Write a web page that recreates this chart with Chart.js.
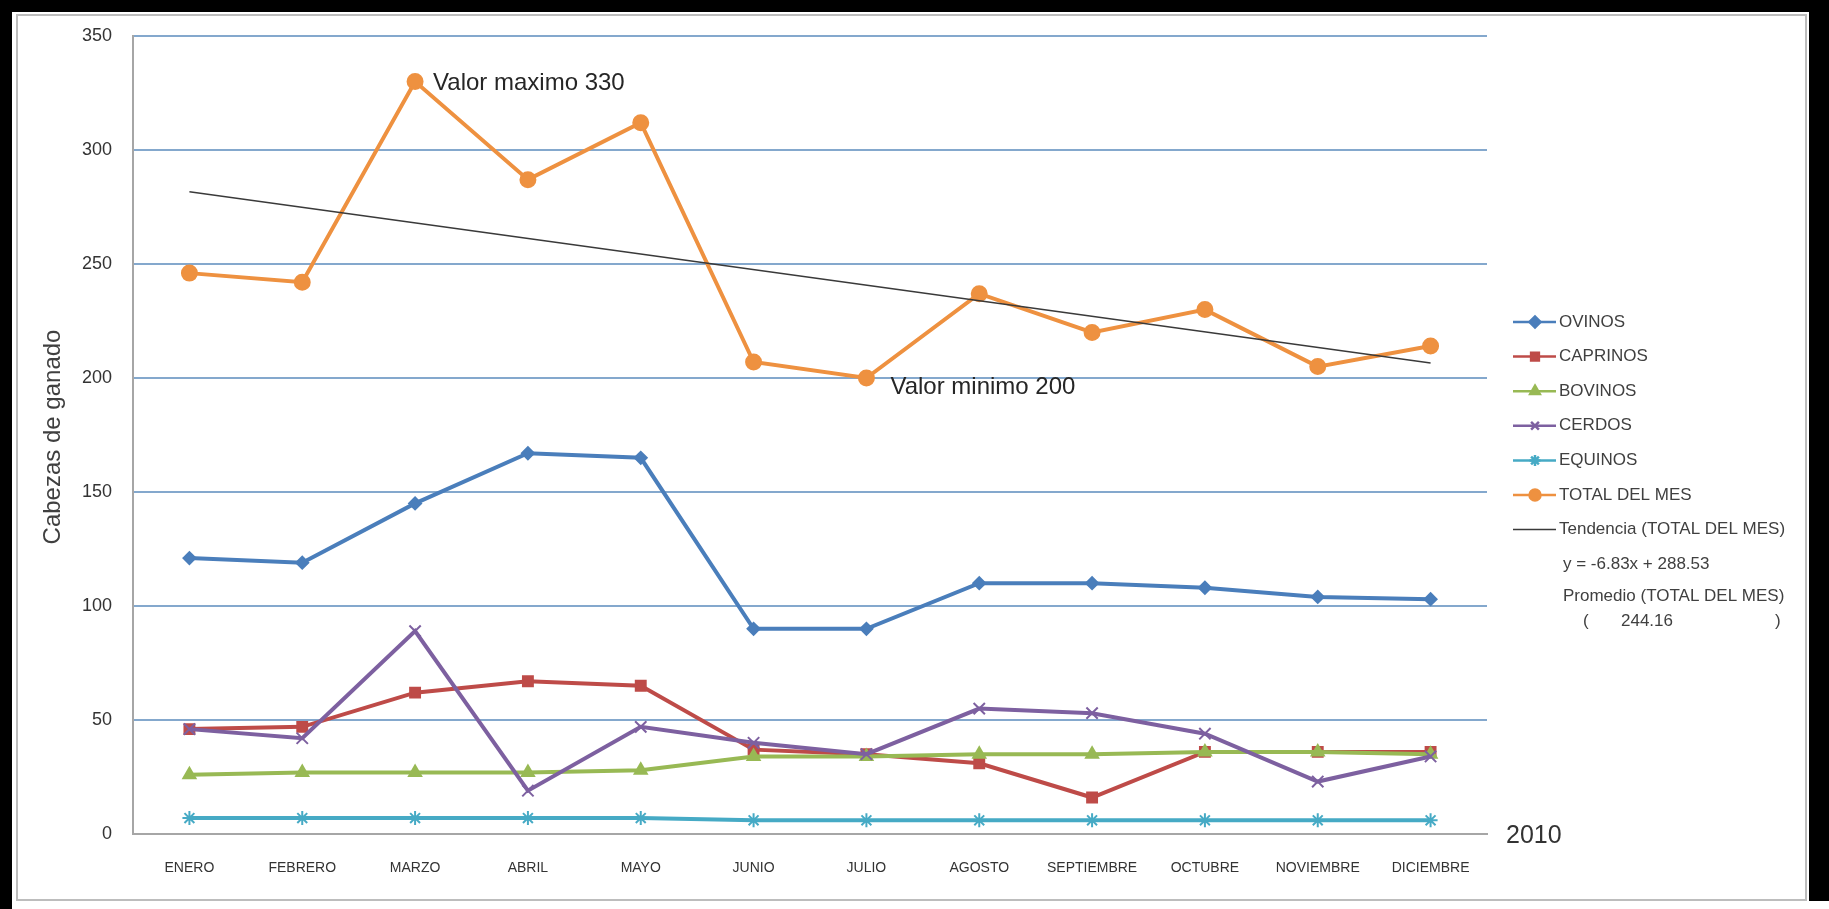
<!DOCTYPE html>
<html>
<head>
<meta charset="utf-8">
<script src="https://cdn.jsdelivr.net/npm/chart.js@4.4.1/dist/chart.umd.min.js"></script>
<style>
  html, body { margin: 0; padding: 0; background: #000; }
  #wrap { width: 1829px; height: 909px; }
</style>
</head>
<body>
<div id="wrap"><canvas id="chart" width="1829" height="909"></canvas></div>
<script>
// Data
const months = ['ENERO', 'FEBRERO', 'MARZO', 'ABRIL', 'MAYO', 'JUNIO', 'JULIO', 'AGOSTO', 'SEPTIEMBRE', 'OCTUBRE', 'NOVIEMBRE', 'DICIEMBRE'];
const ovinos   = [121, 119, 145, 167, 165, 90, 90, 110, 110, 108, 104, 103];
const caprinos = [46, 47, 62, 67, 65, 37, 35, 31, 16, 36, 36, 36];
const bovinos  = [26, 27, 27, 27, 28, 34, 34, 35, 35, 36, 36, 35];
const cerdos   = [46, 42, 89, 19, 47, 40, 35, 55, 53, 44, 23, 34];
const equinos  = [7, 7, 7, 7, 7, 6, 6, 6, 6, 6, 6, 6];
const totalMes = [246, 242, 330, 287, 312, 207, 200, 237, 220, 230, 205, 214];
// trend line end points (ENERO, DICIEMBRE)
const trendEnds = [281.70, 206.57];
const trendLabel = 'y = -6.83x + 288.53';
const promedio = '244.16';
const yTicks = [0, 50, 100, 150, 200, 250, 300, 350];

const FONT = '"Liberation Sans", Arial, sans-serif';

const framePlugin = {
  id: 'frame',
  beforeDraw(chart) {
    const ctx = chart.ctx;
    ctx.save();
    ctx.fillStyle = '#000';
    ctx.fillRect(0, 0, 1829, 909);
    ctx.fillStyle = '#fff';
    ctx.fillRect(12, 12, 1797, 897);
    ctx.fillRect(12, 901, 1817, 8);
    ctx.strokeStyle = '#bdbdbd';
    ctx.lineWidth = 2;
    ctx.strokeRect(17, 15, 1789, 885);
    ctx.restore();
  }
};

const notesPlugin = {
  id: 'notes',
  afterDatasetsDraw(chart) {
    const ctx = chart.ctx;
    const xs = chart.scales.x, ys = chart.scales.y;
    const maxV = Math.max(...totalMes), minV = Math.min(...totalMes);
    const iMax = totalMes.indexOf(maxV), iMin = totalMes.indexOf(minV);
    ctx.save();
    ctx.fillStyle = '#262626';
    ctx.font = '24px ' + FONT;
    ctx.textBaseline = 'middle';
    ctx.fillText('Valor maximo ' + maxV, xs.getPixelForValue(iMax) + 18, ys.getPixelForValue(maxV) + 2);
    ctx.fillText('Valor minimo ' + minV, xs.getPixelForValue(iMin) + 24, ys.getPixelForValue(minV) + 9);

    // axis title
    ctx.save();
    ctx.translate(53, 437);
    ctx.rotate(-Math.PI / 2);
    ctx.textAlign = 'center';
    ctx.font = '24px ' + FONT;
    ctx.fillStyle = '#404040';
    ctx.fillText('Cabezas de ganado', 0, 0);
    ctx.restore();

    ctx.font = '25px ' + FONT;
    ctx.fillStyle = '#333';
    ctx.fillText('2010', 1506, 836);
    ctx.restore();
  },
  afterDraw(chart) {
    // legend with line + marker samples
    const ctx = chart.ctx;
    const rows = [322, 356.6, 391.2, 425.8, 460.4, 495, 529.6];
    ctx.save();
    ctx.font = '17px ' + FONT;
    ctx.textBaseline = 'middle';
    chart.data.datasets.forEach((ds, i) => {
      const y = rows[i];
      ctx.strokeStyle = ds.borderColor;
      ctx.lineWidth = i === 6 ? 1.5 : 2.5;
      ctx.beginPath();
      ctx.moveTo(1513, y);
      ctx.lineTo(1556, y);
      ctx.stroke();
      if (ds.pointRadius > 0) {
        ctx.fillStyle = ds.pointBackgroundColor;
        ctx.strokeStyle = ds.borderColor;
        Chart.helpers.drawPoint(ctx, { pointStyle: ds.pointStyle, radius: 5.5, rotation: 0, borderWidth: 1.5 }, 1535, y);
      }
      ctx.fillStyle = '#404040';
      ctx.fillText(ds.label, 1559, y);
    });
    ctx.fillText(trendLabel, 1563, 564);
    ctx.fillText('Promedio (TOTAL DEL MES)', 1563, 596);
    ctx.fillText('(', 1583, 621);
    ctx.fillText(promedio, 1621, 621);
    ctx.fillText(')', 1775, 621);
    ctx.restore();
  }
};

function series(label, data, color, style, radius, order) {
  return {
    label: label,
    data: data,
    borderColor: color,
    backgroundColor: color,
    pointBackgroundColor: color,
    pointBorderColor: color,
    borderWidth: 4,
    pointStyle: style,
    pointRadius: radius,
    pointBorderWidth: 2,
    tension: 0,
    order: order
  };
}

new Chart(document.getElementById('chart').getContext('2d'), {
  type: 'line',
  data: {
    labels: months,
    datasets: [
      series('OVINOS', ovinos, '#4a7ebb', 'rectRot', 6, 7),
      series('CAPRINOS', caprinos, '#be4b48', 'rect', 7, 6),
      series('BOVINOS', bovinos, '#98b954', 'triangle', 7, 5),
      series('CERDOS', cerdos, '#7d60a0', 'crossRot', 8, 4),
      series('EQUINOS', equinos, '#46aac5', 'star', 7, 3),
      series('TOTAL DEL MES', totalMes, '#ee9140', 'circle', 7.5, 2),
      {
        label: 'Tendencia (TOTAL DEL MES)',
        data: [{ x: months[0], y: trendEnds[0] }, { x: months[months.length - 1], y: trendEnds[1] }],
        borderColor: '#3a3a3a',
        backgroundColor: '#3a3a3a',
        borderWidth: 1.5,
        pointRadius: 0,
        order: 1
      }
    ]
  },
  options: {
    responsive: false,
    animation: false,
    devicePixelRatio: 1,
    layout: { padding: { left: 63, right: 342, top: 36, bottom: 15 } },
    plugins: {
      legend: { display: false },
      tooltip: { enabled: false }
    },
    scales: {
      x: {
        type: 'category',
        offset: true,
        grid: { display: false, drawTicks: false },
        border: { display: true, color: '#a6a6a6', width: 2 },
        ticks: {
          color: '#333',
          font: { family: FONT, size: 14 },
          padding: 26,
          maxRotation: 0,
          autoSkip: false
        },
        afterFit(scale) { scale.height = 60; }
      },
      y: {
        min: 0,
        max: 350,
        afterBuildTicks(scale) { scale.ticks = yTicks.map(v => ({ value: v })); },
        grid: {
          drawTicks: false,
          lineWidth: 2,
          color: c => (c.tick && c.tick.value === 0) ? '#a6a6a6' : '#84a8cd'
        },
        border: { display: true, color: '#a6a6a6', width: 2 },
        ticks: {
          color: '#333',
          font: { family: FONT, size: 18 },
          padding: 21
        },
        afterFit(scale) { scale.width = 70; }
      }
    }
  },
  plugins: [framePlugin, notesPlugin]
});
</script>
</body>
</html>
